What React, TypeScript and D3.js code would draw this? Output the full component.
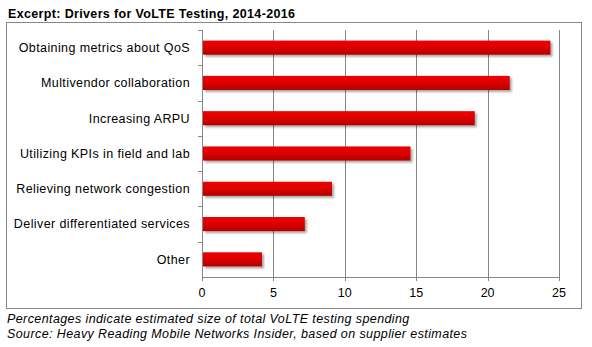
import React from "react";
import * as d3 from "d3";

const categories = [
  "Obtaining metrics about QoS",
  "Multivendor collaboration",
  "Increasing ARPU",
  "Utilizing KPIs in field and lab",
  "Relieving network congestion",
  "Deliver differentiated services",
  "Other",
];
const values = [24.4, 21.55, 19.1, 14.6, 9.1, 7.2, 4.2];
const xTicks = [0, 5, 10, 15, 20, 25];
const title = "Excerpt: Drivers for VoLTE Testing, 2014-2016";
const notes = [
  "Percentages indicate estimated size of total VoLTE testing spending",
  "Source: Heavy Reading Mobile Networks Insider, based on supplier estimates",
];

export default function App() {
  const W = 592, H = 347;
  const left = 202, right = 559, top = 30, bottom = 277;
  const x = d3.scaleLinear().domain([0, 25]).range([left, right]);
  const y = d3.scaleBand().domain(categories).range([top, bottom]).paddingInner(0.6).paddingOuter(0.3);
  const band = d3.scaleBand().domain(categories).range([top, bottom]);
  const font = "Arial, 'Liberation Sans', sans-serif";
  const grid = "#878787";
  const fs = 12.5;
  const ls = 0.4;
  return (
    <svg width={W} height={H} style={{ position: "absolute", left: 0, top: 0, background: "#fff" }} fontFamily={font}>
      <defs>
        <linearGradient id="barg" x1="0" y1="0" x2="0" y2="1">
          <stop offset="0" stopColor="#ee0000" />
          <stop offset="0.5" stopColor="#dd0000" />
          <stop offset="1" stopColor="#b00000" />
        </linearGradient>
        <filter id="sh" x="-5%" y="-20%" width="110%" height="160%">
          <feGaussianBlur in="SourceAlpha" stdDeviation="1.2" />
          <feOffset dx="1.5" dy="2" result="b" />
          <feComponentTransfer><feFuncA type="linear" slope="0.35" /></feComponentTransfer>
          <feMerge><feMergeNode /><feMergeNode in="SourceGraphic" /></feMerge>
        </filter>
      </defs>
      <rect x={0} y={0} width={W} height={H} fill="#fff" />
      <text x={8} y={18} fontSize={fs} letterSpacing={ls - 0.05} fontWeight="bold" fill="#000">{title}</text>
      <rect x={6.5} y={22.5} width={575} height={286} fill="none" stroke={grid} strokeWidth={1} />
      {xTicks.slice(1).map(t => (
        <line key={t} x1={Math.round(x(t)) + 0.5} x2={Math.round(x(t)) + 0.5} y1={top} y2={bottom + 4} stroke={grid} strokeWidth={1} />
      ))}
      <line x1={left + 0.5} x2={left + 0.5} y1={top} y2={bottom + 4} stroke={grid} />
      <line x1={left} x2={right + 1} y1={bottom + 0.5} y2={bottom + 0.5} stroke={grid} />
      {categories.map(c => (
        <line key={"t" + c} x1={left - 4} x2={left} y1={Math.round(band(c)!) + 0.5} y2={Math.round(band(c)!) + 0.5} stroke={grid} />
      ))}
      {categories.map((c, i) => (
        <rect key={"b" + c} x={x(0) + 1} y={y(c)!} width={x(values[i]) - x(0) - 1} height={y.bandwidth()} fill="url(#barg)" filter="url(#sh)" />
      ))}
      {categories.map(c => (
        <text key={"l" + c} x={190} y={y(c)! + y.bandwidth() / 2} dy="0.35em" textAnchor="end" fontSize={fs} letterSpacing={ls} fill="#000">{c}</text>
      ))}
      {xTicks.map(t => (
        <text key={"x" + t} x={x(t)} y={297} textAnchor="middle" fontSize={fs} fill="#000">{t}</text>
      ))}
      {notes.map((n, i) => (
        <text key={"n" + i} x={7} y={323 + i * 15} fontSize={fs} letterSpacing={ls} fontStyle="italic" fill="#000">{n}</text>
      ))}
    </svg>
  );
}
